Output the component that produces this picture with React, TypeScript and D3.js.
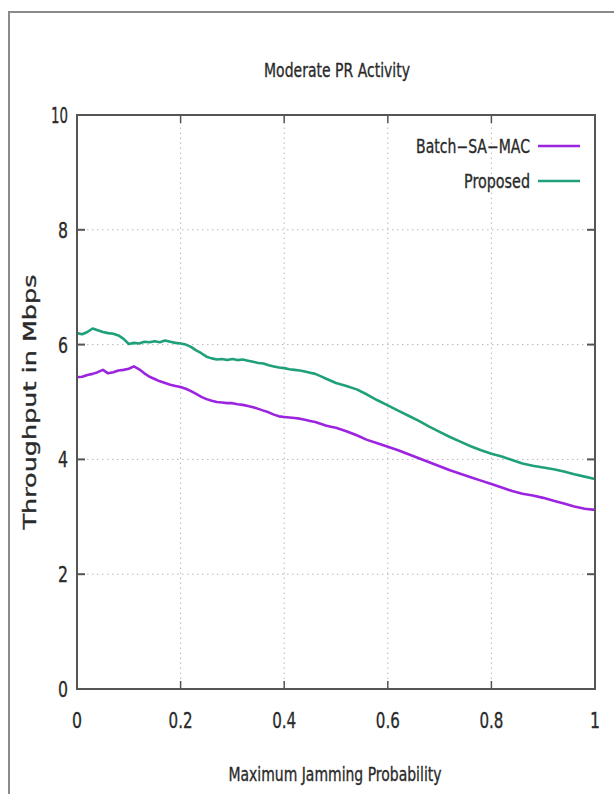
import React from "react";
import * as d3 from "d3";

const xs = [0.00,0.01,0.02,0.03,0.04,0.05,0.06,0.07,0.08,0.09,0.10,0.11,0.12,0.13,0.14,0.15,0.16,0.17,0.18,0.19,0.20,0.21,0.22,0.23,0.24,0.25,0.26,0.27,0.28,0.29,0.30,0.31,0.32,0.33,0.34,0.35,0.36,0.37,0.38,0.39,0.40,0.41,0.42,0.43,0.44,0.45,0.46,0.47,0.48,0.49,0.50,0.52,0.54,0.56,0.58,0.60,0.62,0.64,0.66,0.68,0.70,0.72,0.74,0.76,0.78,0.80,0.82,0.84,0.86,0.88,0.90,0.92,0.94,0.96,0.98,1.00];

const proposed = [6.20,6.18,6.22,6.28,6.25,6.22,6.20,6.19,6.16,6.10,6.01,6.03,6.02,6.05,6.04,6.06,6.04,6.07,6.05,6.03,6.02,6.00,5.96,5.90,5.85,5.79,5.76,5.74,5.75,5.73,5.75,5.73,5.74,5.72,5.70,5.68,5.67,5.64,5.62,5.60,5.59,5.57,5.56,5.55,5.53,5.51,5.49,5.45,5.41,5.37,5.33,5.28,5.22,5.13,5.03,4.94,4.85,4.76,4.67,4.57,4.48,4.39,4.31,4.23,4.16,4.10,4.05,3.99,3.93,3.89,3.86,3.83,3.79,3.74,3.70,3.66];

const batch = [5.43,5.44,5.47,5.49,5.52,5.56,5.50,5.52,5.55,5.56,5.58,5.62,5.57,5.50,5.44,5.40,5.36,5.33,5.30,5.28,5.26,5.23,5.19,5.14,5.09,5.05,5.02,5.00,4.99,4.98,4.98,4.96,4.95,4.93,4.91,4.88,4.85,4.82,4.78,4.75,4.74,4.73,4.72,4.71,4.69,4.67,4.65,4.62,4.59,4.57,4.55,4.49,4.42,4.34,4.28,4.22,4.16,4.09,4.02,3.95,3.88,3.81,3.75,3.69,3.63,3.57,3.51,3.45,3.40,3.37,3.33,3.28,3.23,3.18,3.14,3.12];

const xTicks = [0, 0.2, 0.4, 0.6, 0.8, 1];
const xTickLabels = ["0", "0.2", "0.4", "0.6", "0.8", "1"];
const yTicks = [0, 2, 4, 6, 8, 10];
const yTickLabels = ["0", "2", "4", "6", "8", "10"];
const seriesNames = ["Batch\u2212SA\u2212MAC", "Proposed"];
const seriesColors = ["#9c24e0", "#1fa07a"];

const W = 614, H = 794;
const L = 77, R = 595, T = 115, B = 689;
const FONT = "DejaVu Sans, sans-serif";

export default function App() {
  const x = d3.scaleLinear().domain([0, 1]).range([L, R]);
  const y = d3.scaleLinear().domain([0, 10]).range([B, T]);
  const line = d3.line<number>().x((_, i) => x(xs[i])).y((d) => y(d));
  const series = [batch, proposed];
  const axisColor = "#555";
  const gridColor = "#b8b8b8";
  const textColor = "#2a2a2a";
  const tickLen = 8;
  const ts = { stroke: textColor, strokeWidth: 0.35 } as any;

  const tickW = (s: string) => s.length === 1 ? 10 : s === "10" ? 17 : 24;

  return (
    <svg width={W} height={H} style={{ position: "absolute", left: 0, top: 0, background: "#fff" }}>
      <rect x={0} y={0} width={W} height={H} fill="#fff" />
      <path d={`M9,${H} L9,12 L${W},12`} fill="none" stroke="#8a8a8a" strokeWidth={2} />

      {xTicks.slice(1, -1).map((t) => (
        <line key={"gx" + t} x1={x(t)} x2={x(t)} y1={B} y2={T} stroke={gridColor} strokeWidth={1} strokeDasharray="1.5,3.5" />
      ))}
      {yTicks.slice(1, -1).map((t) => (
        <line key={"gy" + t} x1={L} x2={R} y1={y(t)} y2={y(t)} stroke={gridColor} strokeWidth={1} strokeDasharray="1.5,3.5" />
      ))}

      {xTicks.map((t) => (
        <g key={"tx" + t}>
          <line x1={x(t)} x2={x(t)} y1={B} y2={B - tickLen} stroke={axisColor} strokeWidth={1.5} />
          <line x1={x(t)} x2={x(t)} y1={T} y2={T + tickLen} stroke={axisColor} strokeWidth={1.5} />
        </g>
      ))}
      {yTicks.map((t) => (
        <g key={"ty" + t}>
          <line x1={L} x2={L + tickLen} y1={y(t)} y2={y(t)} stroke={axisColor} strokeWidth={2} />
          <line x1={R} x2={R - tickLen} y1={y(t)} y2={y(t)} stroke={axisColor} strokeWidth={2} />
        </g>
      ))}

      {series.map((s, i) => (
        <path key={"s" + i} d={line(s) || ""} fill="none" stroke={seriesColors[i]} strokeWidth={2.6} strokeLinejoin="round" />
      ))}

      <rect x={L} y={T} width={R - L} height={B - T} fill="none" stroke={axisColor} strokeWidth={2} />

      {yTicks.map((t, i) => (
        <text key={"yl" + t} x={68} y={y(t) + 8} textAnchor="end" fontFamily={FONT} fontSize={21} fill={textColor} {...ts}
          textLength={tickW(yTickLabels[i])} lengthAdjust="spacingAndGlyphs">{yTickLabels[i]}</text>
      ))}
      {xTicks.map((t, i) => (
        <text key={"xl" + t} x={x(t)} y={728} textAnchor="middle" fontFamily={FONT} fontSize={21} fill={textColor} {...ts}
          textLength={tickW(xTickLabels[i])} lengthAdjust="spacingAndGlyphs">{xTickLabels[i]}</text>
      ))}

      <text x={337} y={77} textAnchor="middle" fontFamily={FONT} fontSize={19} fill={textColor} {...ts}
        textLength={146} lengthAdjust="spacingAndGlyphs">Moderate PR Activity</text>
      <text x={335} y={781} textAnchor="middle" fontFamily={FONT} fontSize={19} fill={textColor} {...ts}
        textLength={213} lengthAdjust="spacingAndGlyphs">Maximum Jamming Probability</text>
      <text transform={`translate(36,402) rotate(-90)`} textAnchor="middle" fontFamily={FONT} fontSize={17} fill={textColor} {...ts}
        textLength={255} lengthAdjust="spacingAndGlyphs">Throughput in Mbps</text>

      {seriesNames.map((n, i) => (
        <g key={"lg" + i}>
          <text x={530} y={146 + i * 35 + 7} textAnchor="end" fontFamily={FONT} fontSize={19} fill={textColor} {...ts}
            textLength={i === 0 ? 114 : 66} lengthAdjust="spacingAndGlyphs">{n}</text>
          <line x1={538} x2={580} y1={146 + i * 35} y2={146 + i * 35} stroke={seriesColors[i]} strokeWidth={2.6} />
        </g>
      ))}
    </svg>
  );
}
